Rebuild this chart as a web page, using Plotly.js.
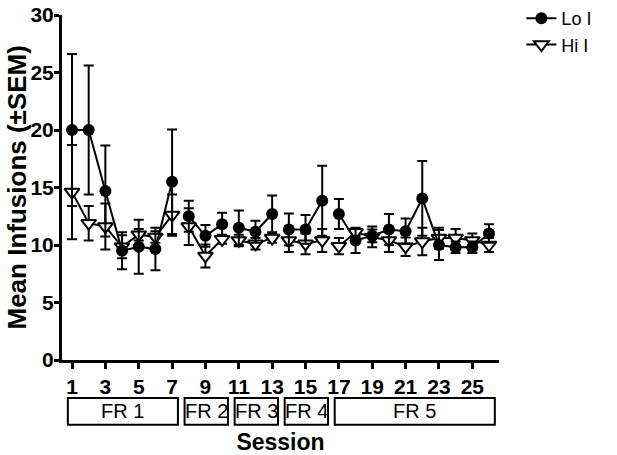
<!DOCTYPE html>
<html>
<head>
<meta charset="utf-8">
<script src="https://cdn.plot.ly/plotly-3.0.1.min.js"></script>
<style>html,body{margin:0;padding:0;background:#fff;}#chart{width:617px;height:455px;}</style>
</head>
<body>
<div id="chart"></div>
<script>
// ---- data ----
const sessions = [1,2,3,4,5,6,7,8,9,10,11,12,13,14,15,16,17,18,19,20,21,22,23,24,25,26];
const loMean = [20.0,20.0,14.7,9.5,9.85,9.65,15.5,12.5,10.8,11.8,11.5,11.15,12.7,11.35,11.35,13.85,12.7,10.4,10.8,11.35,11.2,14.05,10.0,9.8,9.8,11.0];
const loSem  = [6.6,5.6,3.95,1.6,2.35,1.85,4.55,1.35,0.95,1.0,1.5,0.95,1.6,1.4,1.25,3.05,1.3,1.1,0.55,1.35,1.1,3.25,1.3,0.5,0.5,0.8];
const hiMean = [14.6,11.9,11.6,9.85,10.9,10.7,12.6,11.6,9.05,10.5,10.4,10.1,10.6,10.4,10.1,10.4,9.9,11.1,10.7,10.4,9.85,10.3,10.6,10.6,10.4,10.0];
const hiSem  = [4.1,1.5,2.0,1.0,0.5,0.5,1.8,1.6,1.0,0.4,0.5,0.5,0.4,1.0,0.9,1.0,0.7,0.3,0.9,1.0,0.8,1.2,0.9,0.8,0.6,0.6];
const phaseLabels = ['FR 1','FR 2','FR 3','FR 4','FR 5'];
const phaseStart = [1,8,11,14,17];
const phaseEnd   = [7,10,13,16,26];
const xTicks = [1,3,5,7,9,11,13,15,17,19,21,23,25];
const yTicks = [0,5,10,15,20,25,30];
const seriesNames = ['Lo I','Hi I'];
const xTitle = 'Session';
const yTitle = 'Mean Infusions (±SEM)';

// insert gaps between phases so lines break
function withGaps(mean, sem){
  const xs=[], ys=[], es=[];
  for(let p=0;p<phaseStart.length;p++){
    for(let i=0;i<sessions.length;i++){
      const s=sessions[i];
      if(s>=phaseStart[p] && s<=phaseEnd[p]){ xs.push(s); ys.push(mean[i]); es.push(sem[i]); }
    }
    if(p<phaseStart.length-1){ xs.push(null); ys.push(null); es.push(null); }
  }
  return {xs,ys,es};
}
const lo = withGaps(loMean, loSem);
const hi = withGaps(hiMean, hiSem);

const FONT = 'Liberation Sans, Arial, sans-serif';

const traces = [
  {
    x: hi.xs, y: hi.ys, name: seriesNames[1], type:'scatter', mode:'lines+markers',
    connectgaps:false,
    line:{color:'#000',width:2},
    marker:{symbol:'triangle-down',size:13,color:'#fff',line:{color:'#000',width:2}},
    error_y:{type:'data',array:hi.es,visible:true,color:'#000',thickness:2,width:5}
  },
  {
    x: lo.xs, y: lo.ys, name: seriesNames[0], type:'scatter', mode:'lines+markers',
    connectgaps:false,
    line:{color:'#000',width:2},
    marker:{symbol:'circle',size:12,color:'#000'},
    error_y:{type:'data',array:lo.es,visible:true,color:'#000',thickness:2,width:5}
  }
];

const shapes = [], annotations = [];
for(let p=0;p<phaseLabels.length;p++){
  const c=(phaseStart[p]+phaseEnd[p])/2+0.05;
  const h=(phaseEnd[p]-phaseStart[p]+1)/2-0.2;
  shapes.push({type:'rect',xref:'x',yref:'paper',x0:c-h,x1:c+h,y0:-0.188,y1:-0.110,
    line:{color:'#000',width:2},fillcolor:'rgba(0,0,0,0)'});
  annotations.push({xref:'x',yref:'paper',x:c,y:-0.149,text:phaseLabels[p],showarrow:false,
    xanchor:'center',yanchor:'middle',font:{family:FONT,size:20,color:'#000'}});
}
// y-axis title
annotations.push({xref:'paper',yref:'paper',x:0,y:0.5,xshift:-46,textangle:-90,showarrow:false,
  xanchor:'center',yanchor:'middle',text:'<b>'+yTitle+'</b>',font:{family:FONT,size:26,color:'#000'}});

const layout = {
  width:617, height:455,
  margin:{l:62,r:118,t:15,b:95},
  paper_bgcolor:'#fff', plot_bgcolor:'#fff',
  showlegend:true,
  legend:{xref:'container',yref:'container',x:0.845,y:1.0,xanchor:'left',yanchor:'top',traceorder:'reversed',
    font:{family:FONT,size:18,color:'#000'},bgcolor:'rgba(0,0,0,0)',itemwidth:30,tracegroupgap:0},
  xaxis:{range:[0.4,26.6],tickvals:xTicks,ticktext:xTicks.map(String),showgrid:false,zeroline:false,
    showline:true,linecolor:'#000',linewidth:3,ticks:'outside',ticklen:6,tickwidth:3,tickcolor:'#000',
    tickfont:{family:FONT,size:21,color:'#000',weight:'bold'},
    title:{text:'<b>'+xTitle+'</b>',font:{family:FONT,size:23,color:'#000'},standoff:50}},
  yaxis:{range:[0,30],tickvals:yTicks,showgrid:false,zeroline:false,
    showline:true,linecolor:'#000',linewidth:3,ticks:'outside',ticklen:5,tickwidth:3,tickcolor:'#000',
    ticklabelstandoff:-4,
    tickfont:{family:FONT,size:21,color:'#000',weight:'bold'}},
  shapes:shapes, annotations:annotations
};

Plotly.newPlot('chart', traces, layout, {displayModeBar:false, staticPlot:true});
</script>
</body>
</html>
